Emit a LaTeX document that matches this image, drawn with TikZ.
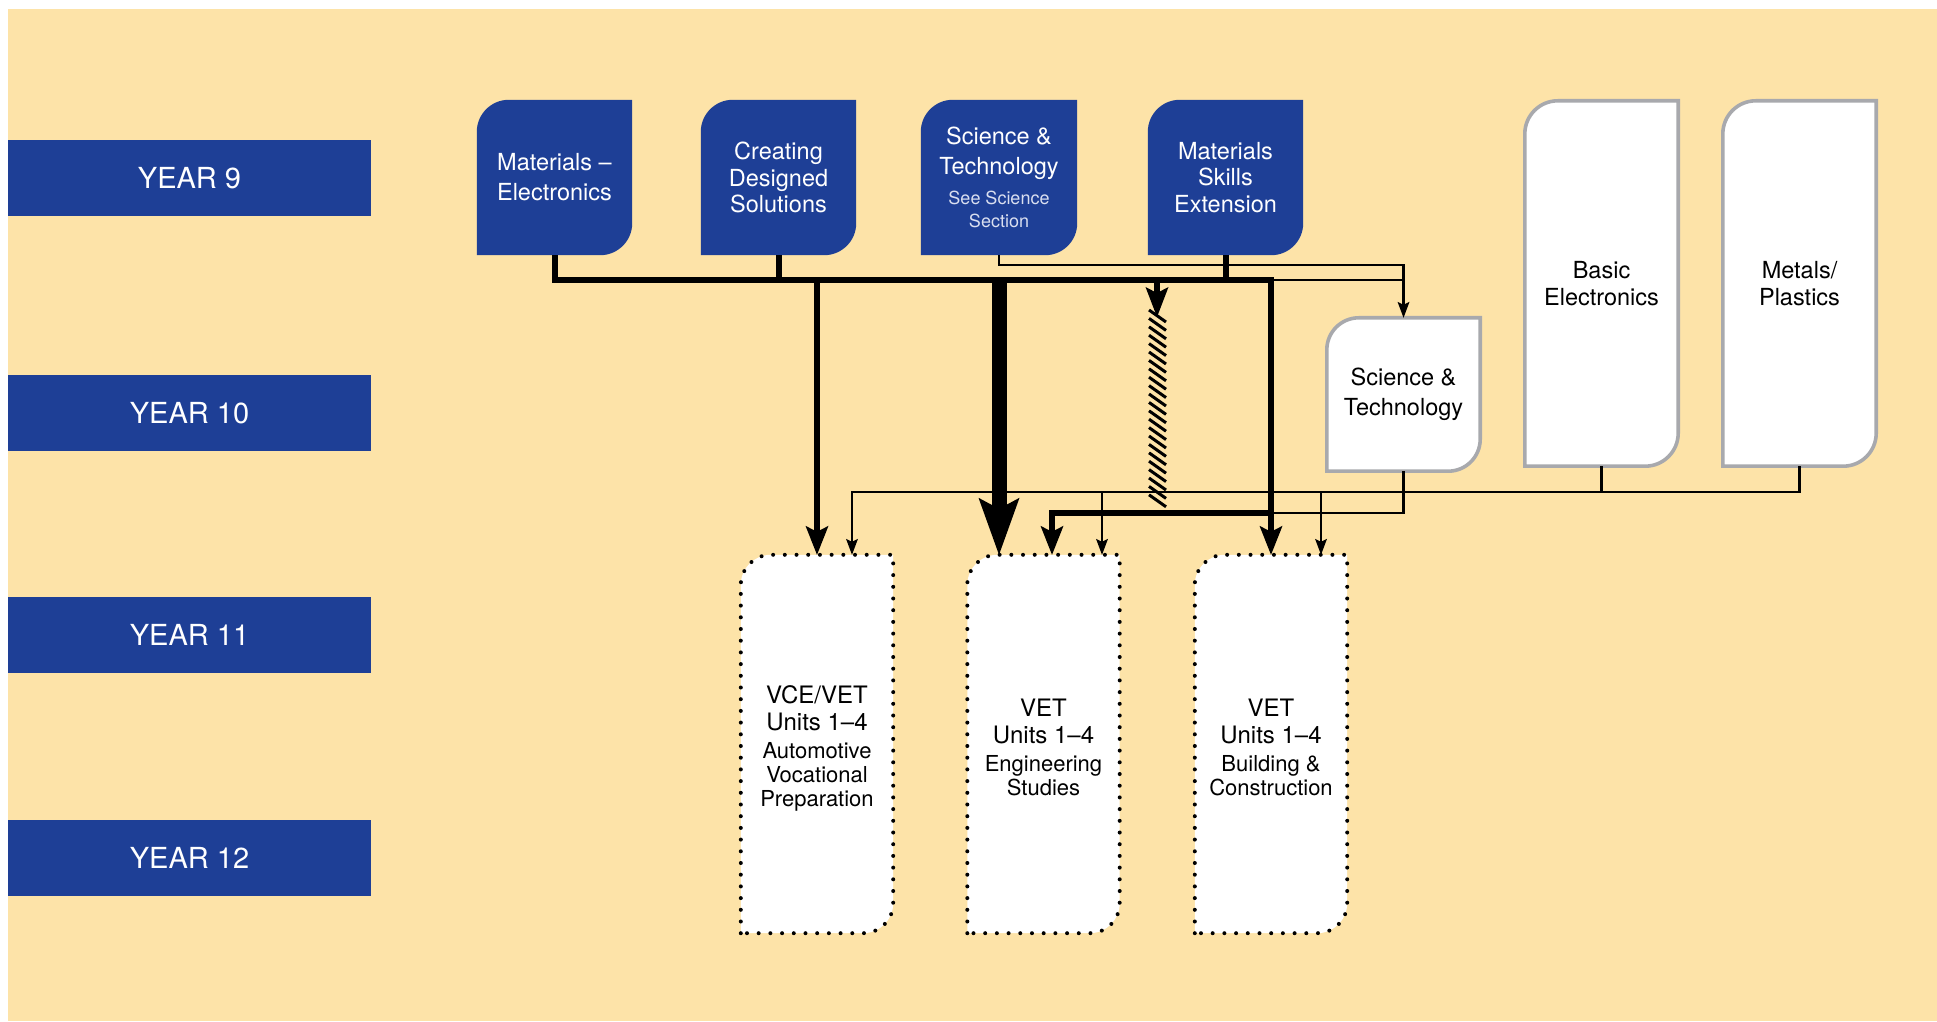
\documentclass[tikz,border=0pt]{standalone}
\usepackage{fontspec}
\setmainfont{TeX Gyre Heros}
\usetikzlibrary{arrows.meta,calc,backgrounds}
\definecolor{paper}{RGB}{253,227,168}
\definecolor{navy}{RGB}{30,63,150}
\definecolor{rim}{RGB}{168,169,173}
\definecolor{pale}{RGB}{218,223,240}
\newcommand\fsz[2]{\fontsize{#1}{#2}\selectfont}
% smaller second-level lines
\newcommand\noteln{\fsz{18}{23}\color{pale}}
\newcommand\subln{\fsz{22}{24}}

\begin{document}
\begin{tikzpicture}[x=1pt,y=1pt,
  line join=miter,
  yearbar/.style={rectangle, fill=navy, text=white, inner sep=0pt,
     minimum width=363pt, minimum height=76pt, font=\fsz{29}{35}},
  course/.style={rectangle, inner sep=0pt, align=center, text=white,
     minimum width=155pt, minimum height=155pt},
  optbox/.style={rectangle, inner sep=0pt, align=center, text=black,
     minimum width=153pt, font=\fsz{23.5}{27}},
  unitbox/.style={rectangle, inner sep=0pt, align=center, text=black,
     minimum width=152pt, minimum height=378pt, font=\fsz{24}{24}},
  unitedge/.style={rectangle, inner sep=0pt, minimum width=152pt, minimum height=378pt},
  navyleaf/.style={fill=navy},
  rimleaf/.style={fill=white, draw=rim, line width=3.6pt},
  dotleaf/.style={fill=white, draw=black, line width=4pt, line cap=round,
     dash pattern=on 0pt off 11.7pt},
  thinline/.style={line width=2.6pt},
  boldline/.style={line width=6pt},
  heavyline/.style={line width=15pt},
  arrS/.style={-{Stealth[length=16pt,width=12pt,inset=3pt,line width=0pt]}},
  arrM/.style={-{Stealth[length=29pt,width=23pt,inset=6pt,line width=0pt]}},
  arrH/.style={-{Stealth[length=30pt,width=23pt,inset=6pt,line width=0pt]}},
  arrL/.style={-{Stealth[length=57pt,width=41pt,inset=11pt,line width=0pt]}},
  hatch/.style={line width=3pt},
]
\useasboundingbox (0,0) rectangle (1937,1021);

% year labels
\node[yearbar] (y9)  at (189.5,843) {YEAR 9};
\node[yearbar] (y10) at (189.5,608) {YEAR 10};
\node[yearbar] (y11) at (189.5,386) {YEAR 11};
\node[yearbar] (y12) at (189.5,163) {YEAR 12};

% year 9 courses
\node[course, font=\fsz{23.5}{30}] (me) at (554.5,843.5) {Materials --\\Electronics};
\node[course, font=\fsz{23.5}{26.5}] (cds) at (778.5,843.5) {Creating\\Designed\\Solutions};
\node[course, minimum width=156pt, font=\fsz{23.5}{23}] (stA) at (999,843.5)
  {Science \&\\[7pt]Technology\\[7pt]\noteln See Science\\\noteln Section};
\node[course, font=\fsz{23.5}{26.5}] (mse) at (1225.5,843.5) {Materials\\Skills\\Extension};

% year 10 options
\node[optbox, minimum height=153pt, font=\fsz{23.5}{30}] (st10) at (1403.5,626.5) {Science \&\\Technology};
\node[optbox, minimum height=365pt] (be) at (1601.5,737.5) {Basic\\Electronics};
\node[optbox, minimum height=365pt] (mp) at (1799.5,737.5) {Metals/\\Plastics};

% year 11--12 units: outline frames and their centred texts
\node[unitedge] (vce) at (817,277) {};
\node[unitedge] (eng) at (1043.5,277) {};
\node[unitedge] (bld) at (1271,277) {};
\node[unitbox, minimum height=0pt] (vcetext) at (817,272.5)
  {VCE/VET\\[3pt]Units 1--4\\[4pt]\subln Automotive\\\subln Vocational\\\subln Preparation};
\node[unitbox, minimum height=0pt] (engtext) at (1043.5,273.5)
  {VET\\[3pt]Units 1--4\\[4pt]\subln Engineering\\\subln Studies};
\node[unitbox, minimum height=0pt] (bldtext) at (1271,273.5)
  {VET\\[3pt]Units 1--4\\[4pt]\subln Building \&\\\subln Construction};

% junction points
\coordinate (busR) at (1271,741);
\coordinate (t1) at (999,756);
\coordinate (j1) at (1052,508);
\coordinate (a1) at (852,529);
\coordinate (a2) at (1102,529);
\coordinate (a3) at (1321,529);
\coordinate (h0) at (1157,741);
\coordinate (h1) at (1157,704);

% thin connectors
\draw[thinline, arrS] (stA.south) -- (t1) -| (st10.north);
\draw[thinline] (busR) -- (busR -| st10.north);
\draw[thinline] (st10.south) |- (busR |- j1);
\draw[thinline] (be.south) -- (be.south |- a1);
\draw[thinline, arrS] (mp.south) |- (a1) -- (a1 |- vce.north);
\draw[thinline, arrS] (a2) -- (a2 |- eng.north);
\draw[thinline, arrS] (a3) -- (a3 |- bld.north);

% main bus and its drops
\draw[boldline, arrM] (me.south) |- (busR) -- (bld.north);
\draw[boldline] (cds.south) -- (cds.south |- busR);
\draw[boldline] (mse.south) -- (mse.south |- busR);
\draw[boldline, arrM] (vce.north |- busR) -- (vce.north);
\draw[heavyline, arrL] (stA.south |- busR) -- (stA.south |- eng.north);
\draw[boldline, arrM] (busR |- j1) -| (j1 |- eng.north);

% hatched optional path
\draw[boldline, arrH] (h0) -- (h1);
\foreach \i in {0,...,22}
  \draw[hatch] ({1149},{711-8.4*\i}) -- ++(17,-12);

\begin{pgfonlayer}{background}
  \fill[paper] (8,0) rectangle (1937,1012);
  \foreach \n/\s/\r in {me/navyleaf/32pt, cds/navyleaf/32pt, stA/navyleaf/32pt, mse/navyleaf/32pt,
                        st10/rimleaf/32pt, be/rimleaf/33pt, mp/rimleaf/33pt,
                        vce/dotleaf/30pt, eng/dotleaf/30pt, bld/dotleaf/30pt}
    \path[\s] (\n.south west) -- ($(\n.north west)+(0,-\r)$)
       arc[start angle=180, end angle=90, radius=\r] -- (\n.north east)
       -- ($(\n.south east)+(0,\r)$)
       arc[start angle=0, end angle=-90, radius=\r] -- cycle;
\end{pgfonlayer}
\end{tikzpicture}
\end{document}
